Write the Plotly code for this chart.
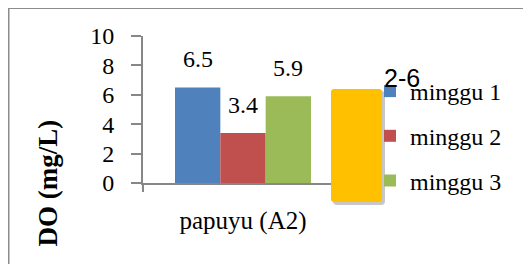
import plotly.graph_objects as go

# ---- data ----
categories = ["papuyu (A2)"]
series_names = ["minggu 1", "minggu 2", "minggu 3"]
series_values = [[6.5], [3.4], [5.9]]
series_colors = ["#4F81BD", "#C0504D", "#9BBB59"]
y_ticks = [0, 2, 4, 6, 8, 10]
y_title = "DO (mg/L)"
box_label = "2-6"

# ---- geometry (page pixels; page body has an 8px margin) ----
PAGE_W, PAGE_H = 531, 264
OFF = 8
W, H = PAGE_W - OFF, PAGE_H - OFF
L, R, T, B = 143, 343, 36, 183  # plot area in page pixels


def px(x):
    return (x - L) / (R - L)


def py(y):
    return (B - y) / (B - T)


SERIF = "Liberation Serif"
SANS = "Liberation Sans"
GRAY = "#878787"

fig = go.Figure()
for i, (name, vals, col) in enumerate(zip(series_names, series_values, series_colors)):
    fig.add_trace(go.Bar(
        x=categories, y=vals, name=name, marker=dict(color=col, line=dict(width=0)),
        legendgroup=name,
    ))

# value labels above bars
bar_w = (R - L) * 0.68 / len(series_names)
for i, vals in enumerate(series_values):
    for c, v in zip(categories, vals):
        fig.add_annotation(
            x=c, y=v, xref="x", yref="y", text=f"{v:g}", showarrow=False,
            xshift=(i - (len(series_names) - 1) / 2) * bar_w, yshift=13,
            yanchor="bottom", font=dict(family=SERIF, size=24, color="black"),
        )

# y axis title
fig.add_annotation(
    x=px(48), y=py(183.5), xref="paper", yref="paper", text=f"<b>{y_title}</b>",
    showarrow=False, textangle=-90, xanchor="center", yanchor="middle",
    font=dict(family=SERIF, size=27, color="black"),
)

# outer frame (top and left edges visible)
fig.add_shape(type="line", xref="paper", yref="paper", x0=px(7), x1=px(540), y0=py(8), y1=py(8),
              line=dict(color="#8c8c8c", width=2))
fig.add_shape(type="line", xref="paper", yref="paper", x0=px(8.5), x1=px(8.5), y0=py(7), y1=py(270),
              line=dict(color="#8c8c8c", width=2))


def rounded_rect(x0, y0, x1, y1, r):
    return (
        f"M {px(x0 + r)} {py(y0)} L {px(x1 - r)} {py(y0)} "
        f"Q {px(x1)} {py(y0)} {px(x1)} {py(y0 + r)} "
        f"L {px(x1)} {py(y1 - r)} Q {px(x1)} {py(y1)} {px(x1 - r)} {py(y1)} "
        f"L {px(x0 + r)} {py(y1)} Q {px(x0)} {py(y1)} {px(x0)} {py(y1 - r)} "
        f"L {px(x0)} {py(y0 + r)} Q {px(x0)} {py(y0)} {px(x0 + r)} {py(y0)} Z"
    )


# shadow + yellow box
fig.add_shape(type="path", xref="paper", yref="paper", path=rounded_rect(333, 91, 385, 205, 4),
              fillcolor="rgba(0,0,0,0.22)", line=dict(width=0), layer="above")
fig.add_shape(type="path", xref="paper", yref="paper", path=rounded_rect(331, 89, 382, 202, 3),
              fillcolor="#FFC000", line=dict(width=0), layer="above")

fig.add_annotation(
    x=px(401.5), y=py(77.5), xref="paper", yref="paper", text=box_label, showarrow=False,
    xanchor="center", yanchor="middle", font=dict(family=SANS, size=25, color="black"),
)

fig.update_layout(
    width=W, height=H,
    margin=dict(l=L - OFF, r=PAGE_W - R, t=T - OFF, b=PAGE_H - B, autoexpand=False),
    paper_bgcolor="white", plot_bgcolor="white",
    barmode="group", bargap=0.32, bargroupgap=0,
    showlegend=True,
    legend=dict(
        x=px(370), y=py(69), xanchor="left", yanchor="top",
        font=dict(family=SERIF, size=24, color="black"),
        tracegroupgap=10.5, bgcolor="rgba(0,0,0,0)", traceorder="grouped",
    ),
    xaxis=dict(
        range=[-0.5, 0.5], showline=True, linecolor=GRAY, linewidth=2,
        ticks="outside", tickson="boundaries", ticklen=7, tickwidth=2, tickcolor=GRAY,
        tickfont=dict(family=SERIF, size=25, color="black"), ticklabelstandoff=14,
        showgrid=False, zeroline=False, automargin=False,
    ),
    yaxis=dict(
        range=[0, 10], tickvals=y_ticks, showline=True, linecolor=GRAY, linewidth=2,
        ticks="outside", ticklen=10, tickwidth=2, tickcolor=GRAY,
        tickfont=dict(family=SERIF, size=24, color="black"), ticklabelstandoff=12,
        showgrid=False, zeroline=False, automargin=False,
    ),
)

fig.write_html("out.html")
